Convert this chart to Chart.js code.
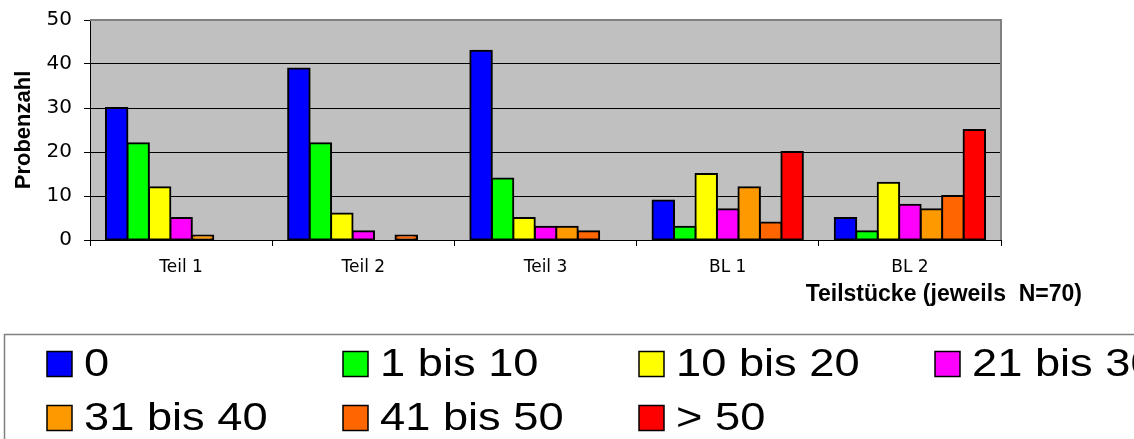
<!DOCTYPE html>
<html>
<head>
<meta charset="utf-8">
<script src="https://cdn.jsdelivr.net/npm/chart.js@4.4.1/dist/chart.umd.min.js"></script>
<style>
  html, body { margin: 0; padding: 0; background: #ffffff; overflow: hidden; }
  canvas { display: block; }
</style>
</head>
<body>
<canvas id="chart" width="1134" height="439"></canvas>
<script>
// Categories (Teilstücke) and the sample-count classes
const categories = ['Teil 1', 'Teil 2', 'Teil 3', 'BL 1', 'BL 2'];
const seriesNames = ['0', '1 bis 10', '10 bis 20', '21 bis 30', '31 bis 40', '41 bis 50', '> 50'];
const seriesColors = ['#0000FF', '#00FF00', '#FFFF00', '#FF00FF', '#FF9900', '#FF6600', '#FF0000'];

// Probenzahl per class, one value per Teilstück
const values0      = [30, 39, 43,  9,  5];
const values1to10  = [22, 22, 14,  3,  2];
const values10to20 = [12,  6,  5, 15, 13];
const values21to30 = [ 5,  2,  3,  7,  8];
const values31to40 = [ 1,  0,  3, 12,  7];
const values41to50 = [ 0,  1,  2,  4, 10];
const valuesOver50 = [ 0,  0,  0, 20, 25];

const yTicks = [0, 10, 20, 30, 40, 50];
const yTitle = 'Probenzahl';
const xTitle = 'Teilstücke (jeweils  N=70)';

const SANS = "'Liberation Sans', Arial, Helvetica, sans-serif";
const WIDE = "'DejaVu Sans', Verdana, sans-serif";
const seriesValues = [values0, values1to10, values10to20, values21to30, values31to40, values41to50, valuesOver50];

// Grey plot background plus the grey top/right frame
const plotFrame = {
  id: 'plotFrame',
  beforeDraw(chart, args, opts) {
    const { ctx, chartArea: a } = chart;
    ctx.save();
    ctx.fillStyle = opts.background;
    ctx.fillRect(a.left, a.top, a.right - a.left, a.bottom - a.top);
    ctx.restore();
  },
  afterDatasetsDraw(chart, args, opts) {
    const { ctx, chartArea: a } = chart;
    ctx.save();
    ctx.strokeStyle = opts.frameColor;
    ctx.lineWidth = opts.frameWidth;
    ctx.beginPath();
    ctx.moveTo(a.left, a.top);
    ctx.lineTo(a.right, a.top);
    ctx.lineTo(a.right, a.bottom);
    ctx.stroke();
    ctx.restore();
  }
};

// Category axis title, right of centre under the last category
const xAxisTitle = {
  id: 'xAxisTitle',
  afterDraw(chart, args, opts) {
    const ctx = chart.ctx;
    ctx.save();
    ctx.font = opts.font;
    ctx.fillStyle = '#000';
    ctx.textAlign = 'right';
    ctx.textBaseline = 'alphabetic';
    ctx.fillText(opts.text, opts.x, opts.y);
    ctx.restore();
  }
};

// Legend laid out on a fixed column grid inside a framed box
const gridLegend = {
  id: 'gridLegend',
  afterDraw(chart, args, opts) {
    const ctx = chart.ctx;
    ctx.save();
    ctx.strokeStyle = opts.frameColor;
    ctx.lineWidth = opts.frameWidth;
    ctx.strokeRect(opts.left, opts.top, chart.width, chart.height);
    ctx.font = opts.font;
    ctx.textBaseline = 'middle';
    chart.data.datasets.forEach((ds, i) => {
      const col = i % opts.columns;
      const row = Math.floor(i / opts.columns);
      const x = opts.firstX + col * opts.colWidth;
      const y = opts.firstY + row * opts.rowHeight;
      ctx.fillStyle = ds.backgroundColor;
      ctx.fillRect(x, y - opts.box / 2, opts.box, opts.box);
      ctx.strokeStyle = '#000';
      ctx.lineWidth = opts.boxBorder;
      ctx.strokeRect(x, y - opts.box / 2, opts.box, opts.box);
      ctx.save();
      ctx.translate(x + opts.box + opts.gap, y + opts.textShift);
      ctx.scale(opts.textStretch, 1);
      ctx.fillStyle = '#000';
      ctx.fillText(ds.label, 0, 0);
      ctx.restore();
    });
    ctx.restore();
  }
};

new Chart(document.getElementById('chart'), {
  type: 'bar',
  data: {
    labels: categories,
    datasets: seriesNames.map((name, i) => ({
      label: name,
      data: seriesValues[i],
      backgroundColor: seriesColors[i],
      borderColor: '#000000',
      borderWidth: 2,
      borderSkipped: false,
      inflateAmount: (c) => (c.raw ? 1 : 0),
      barPercentage: 1.0,
      categoryPercentage: 0.825
    }))
  },
  options: {
    responsive: false,
    devicePixelRatio: 1,
    animation: false,
    layout: { padding: { left: 5, right: 133, top: 20, bottom: 159 } },
    plugins: {
      legend: { display: false },
      tooltip: { enabled: false },
      plotFrame: { background: '#C0C0C0', frameColor: '#808080', frameWidth: 2 },
      xAxisTitle: { text: xTitle, font: `bold 23px ${SANS}`, x: 1082, y: 301 },
      gridLegend: {
        left: 4.5, top: 334.5, frameColor: '#808080', frameWidth: 1.5,
        font: `39px ${SANS}`, textStretch: 1.16, columns: 4, firstX: 47, colWidth: 296,
        firstY: 364, rowHeight: 54, box: 25, boxBorder: 1.5, gap: 12, textShift: 1
      }
    },
    scales: {
      x: {
        grid: { drawOnChartArea: false, drawTicks: true, tickLength: 6, color: '#000', offset: true },
        border: { display: true, color: '#000', width: 1 },
        ticks: { color: '#000', font: { family: WIDE, size: 17 }, padding: 11, maxRotation: 0 },
        afterFit(scale) {
          scale.height = 40;
          scale.paddingLeft = 0;
          scale.paddingRight = 0;
        }
      },
      y: {
        min: 0,
        max: 50,
        afterBuildTicks(scale) { scale.ticks = yTicks.map(v => ({ value: v })); },
        grid: {
          color: (c) => (c.tick && c.tick.value === 50 ? 'rgba(0,0,0,0)' : '#000'),
          tickColor: '#000',
          tickLength: 6,
          lineWidth: 1
        },
        border: { display: true, color: '#000', width: 1 },
        ticks: { color: '#000', font: { family: WIDE, size: 20 }, padding: 12 },
        title: {
          display: true, text: yTitle, color: '#000',
          font: { family: SANS, size: 22, weight: 'bold' }, padding: { top: 6, bottom: 0 }
        },
        afterFit(scale) {
          scale.width = 85;
          scale.paddingTop = 0;
          scale.paddingBottom = 0;
        }
      }
    }
  },
  plugins: [plotFrame, xAxisTitle, gridLegend]
});
</script>
</body>
</html>
